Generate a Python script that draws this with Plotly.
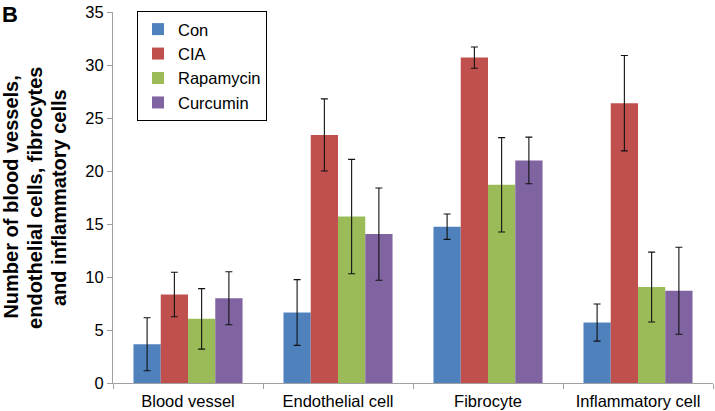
import plotly.graph_objects as go

categories = ["Blood vessel", "Endothelial cell", "Fibrocyte", "Inflammatory cell"]
series_names = ["Con", "CIA", "Rapamycin", "Curcumin"]
con = [3.65, 6.65, 14.75, 5.7]
cia = [8.35, 23.4, 30.7, 26.4]
rapamycin = [6.05, 15.7, 18.7, 9.05]
curcumin = [8.0, 14.05, 21.0, 8.7]
con_err = [2.5, 3.1, 1.2, 1.75]
cia_err = [2.1, 3.4, 1.0, 4.5]
rapamycin_err = [2.85, 5.4, 4.45, 3.3]
curcumin_err = [2.5, 4.35, 2.2, 4.1]
colors = ["#4F81BD", "#C0504D", "#9BBB59", "#8064A2"]
ytitle_lines = ["Number of blood vessels,", "endothelial cells, fibrocytes", "and inflammatory cells"]

values = [con, cia, rapamycin, curcumin]
errors = [con_err, cia_err, rapamycin_err, curcumin_err]

font = "Liberation Sans, Arial, sans-serif"
fig = go.Figure()
for name, v, e, c in zip(series_names, values, errors, colors):
    fig.add_trace(go.Bar(
        x=categories, y=v, name=name, marker=dict(color=c, line=dict(width=0)),
        error_y=dict(type="data", array=e, color="#111111", thickness=1.1, width=3.5),
    ))

fig.update_layout(
    width=715, height=411,
    margin=dict(l=113, r=2, t=12, b=28),
    paper_bgcolor="white", plot_bgcolor="white",
    barmode="group", bargap=0.273, bargroupgap=0,
    font=dict(family=font, size=16.5, color="black"),
    showlegend=True,
    legend=dict(x=0.04, y=1.003, xanchor="left", yanchor="top",
                bordercolor="black", borderwidth=1, bgcolor="white",
                font=dict(size=16.5), itemwidth=30, tracegroupgap=0),
    xaxis=dict(type="category", showline=True, linecolor="#A0A0A0", linewidth=1,
               ticks="outside", tickson="boundaries", ticklen=5, tickcolor="#A0A0A0",
               showgrid=False, tickfont=dict(size=16.5), automargin=False,
               ticklabelstandoff=3),
    yaxis=dict(range=[0, 35], dtick=5, showline=True, linecolor="#A0A0A0", linewidth=1,
               ticks="outside", ticklen=5, tickcolor="#A0A0A0", showgrid=False,
               zeroline=False, tickfont=dict(size=16.5), automargin=False),
)
for line, xp in zip(ytitle_lines, [-0.1715, -0.1310, -0.0908]):
    fig.add_annotation(text="<b>" + line + "</b>", xref="paper", yref="paper", x=xp, y=0.5,
                       xanchor="center", yanchor="middle", textangle=-90, showarrow=False,
                       font=dict(size=20))
fig.add_annotation(text="<b>B</b>", xref="paper", yref="paper", x=-0.188, y=1.032,
                   xanchor="left", yanchor="top", showarrow=False, font=dict(size=22))
fig.write_html("out.html", config={"displayModeBar": False})

with open("out.html", "r", encoding="utf-8") as f:
    html = f.read()
html = html.replace("<head>", "<head><style>html,body{margin:0;padding:0;}</style>", 1)
with open("out.html", "w", encoding="utf-8") as f:
    f.write(html)
